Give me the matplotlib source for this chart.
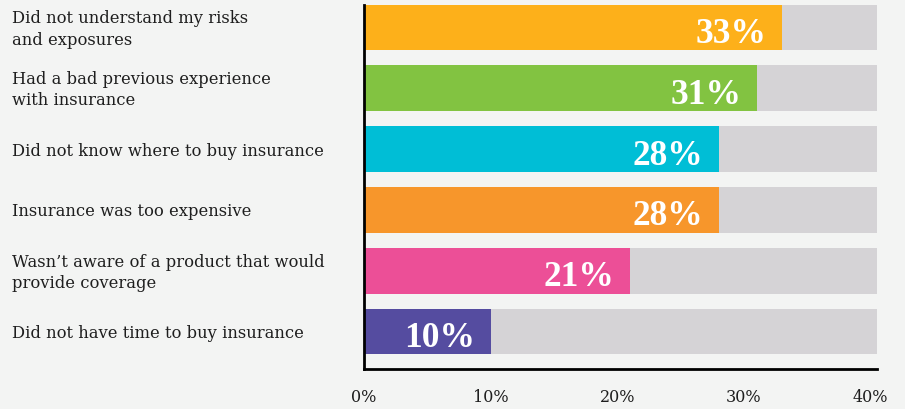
import matplotlib
matplotlib.use("Agg")
import matplotlib.pyplot as plt

categories = [
    "Did not understand my risks\nand exposures",
    "Had a bad previous experience\nwith insurance",
    "Did not know where to buy insurance",
    "Insurance was too expensive",
    "Wasn\u2019t aware of a product that would\nprovide coverage",
    "Did not have time to buy insurance",
]
values = [33, 31, 28, 28, 21, 10]
value_labels = ["33%", "31%", "28%", "28%", "21%", "10%"]
colors = ["#FDB01A", "#82C341", "#00BED6", "#F7962B", "#EC4F97", "#554CA0"]
tick_values = [0, 10, 20, 30, 40]
tick_labels = ["0%", "10%", "20%", "30%", "40%"]

bg = "#F3F4F3"
serif_bold = ["Liberation Serif", "DejaVu Serif"]
serif = ["DejaVu Serif"]

fig = plt.figure(figsize=(9.05, 4.10), dpi=100, facecolor=bg)
ax = fig.add_axes([364/905, 1 - 370/410, (877-364)/905, (370-6)/410])
ax.set_facecolor(bg)

xmax = 40.5
y = list(range(len(categories)))
h = 0.755
ax.barh(y, [xmax]*len(y), height=h, color="#D5D3D6", zorder=1)
ax.barh(y, values, height=h, color=colors, zorder=2)

for yi, v, lab in zip(y, values, value_labels):
    ax.annotate(lab, xy=(v, yi), xytext=(-11, -1.5), textcoords="offset points",
                ha="right", va="center_baseline", color="white", fontsize=25.5,
                fontweight="bold", family=serif_bold, zorder=3)

for yi, c in zip(y, categories):
    ax.annotate(c, xy=(0, yi), xycoords=("figure pixels", "data"),
                xytext=(12, -1), textcoords="offset pixels",
                ha="left", va="center", fontsize=11.8, family=serif,
                color="#1e1e1e", linespacing=1.32, annotation_clip=False)

ax.set_xlim(0, xmax)
ax.set_ylim(5.617, -0.37)
ax.set_xticks(tick_values)
ax.set_xticklabels(tick_labels, family=serif, fontsize=11.5, color="#1e1e1e")
ax.tick_params(axis="x", length=0, pad=13.5)
ax.set_yticks([])
for s in ["top", "right"]:
    ax.spines[s].set_visible(False)
for s in ["left", "bottom"]:
    ax.spines[s].set_linewidth(2)
    ax.spines[s].set_color("black")
    ax.spines[s].set_zorder(5)

fig.savefig("out.png", dpi=100, facecolor=bg)
